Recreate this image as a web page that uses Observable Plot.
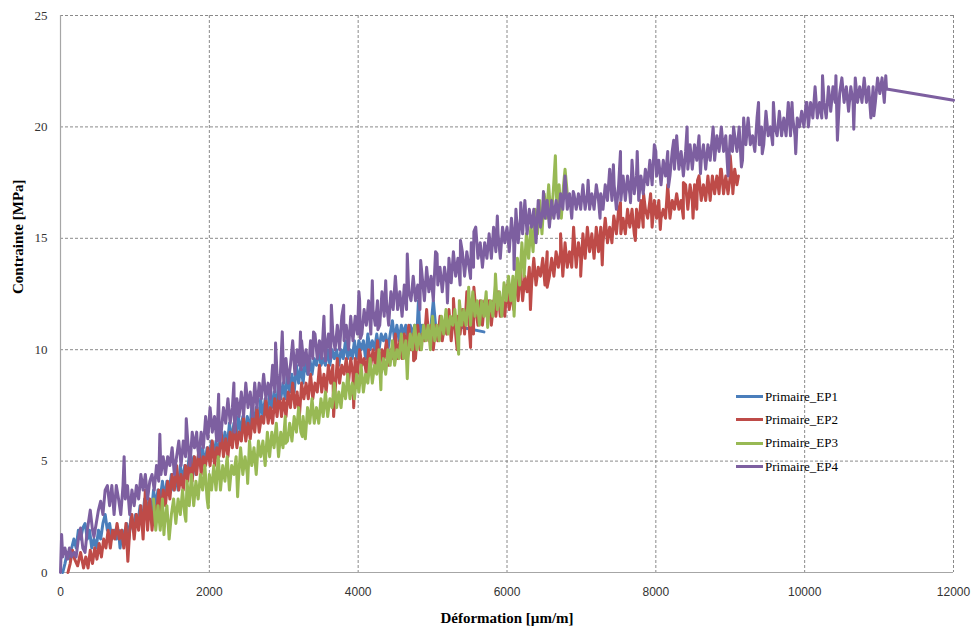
<!DOCTYPE html>
<html><head><meta charset="utf-8">
<script src="https://cdn.jsdelivr.net/npm/d3@7"></script>
<script src="https://cdn.jsdelivr.net/npm/@observablehq/plot@0.6"></script>
<style>
body{margin:0;background:#fff;}
#wrap{position:relative;width:971px;height:632px;}
#legend{position:absolute;left:736px;top:385px;font-family:"Liberation Serif",serif;font-size:13px;color:#000;}
.item{display:flex;align-items:center;height:23.3px;}
.sw{width:27px;height:3px;margin-right:2px;}
</style></head><body><div id="wrap"><div id="legend"></div></div>
<script>
const seriesNames = ["Primaire_EP1","Primaire_EP2","Primaire_EP3","Primaire_EP4"];
const seriesColors = ["#4a7ebb","#be4b48","#98b954","#7d5fa0"];
const xTicks = [0,2000,4000,6000,8000,10000,12000];
const yTicks = [0,5,10,15,20,25];

const ep1 = [[30,0],[60,0.4],[90,0.9],[120,0.6],[150,1.1],[180,1.5],[210,1.1],[240,1.9],[270,1.5],[300,2.0],[330,2.2],[360,1.5],[390,1.9],[420,1.1],[450,1.5],[480,1.1],[510,1.9],[540,1.5],[570,2.2],[600,2.6],[630,1.9],[660,2.2],[690,1.5],[720,1.9],[750,1.5],[780,1.9],[800,1.1],[830,1.9],[860,1.5],[890,2.2],[920,1.5],[950,2.6],[980,1.9],[1010,2.6],[1040,2.2],[1070,3.0],[1100,2.2],[1130,3.3],[1160,2.6],[1190,3.3],[1220,2.6],[1250,3.7],[1280,3.0],[1310,3.7],[1340,3.3],[1370,4.1],[1400,3.3],[1430,4.1],[1460,3.7],[1490,4.4],[1520,3.7],[1550,4.4],[1580,3.7],[1610,4.8],[1640,4.1],[1670,4.8],[1700,4.4],[1730,5.2],[1760,4.4],[1790,5.2],[1820,4.4],[1850,5.2],[1880,4.8],[1910,5.6],[1940,4.8],[1970,5.6],[2000,5.2],[2030,5.9],[2060,5.2],[2090,5.9],[2120,5.2],[2150,6.3],[2180,5.6],[2210,6.3],[2240,5.6],[2270,6.7],[2300,5.9],[2330,6.7],[2360,6.0],[2390,7.0],[2420,6.3],[2450,7.0],[2480,6.3],[2510,7.0],[2540,6.3],[2570,7.4],[2600,6.7],[2630,7.4],[2660,6.7],[2690,7.8],[2720,7.0],[2750,7.8],[2780,7.0],[2810,8.1],[2840,7.4],[2870,8.1],[2900,7.4],[2930,8.5],[2960,7.8],[2990,8.5],[3020,7.8],[3050,8.9],[3080,8.1],[3110,8.9],[3140,8.1],[3170,9.3],[3200,8.5],[3230,9.3],[3260,8.5],[3290,9.6],[3320,8.9],[3350,9.6],[3380,8.9],[3410,9.6],[3440,9.3],[3470,10.0],[3500,9.3],[3530,9.6],[3560,9.3],[3590,10.0],[3620,9.3],[3650,10.0],[3680,9.6],[3710,10.0],[3740,9.3],[3770,10.0],[3800,9.6],[3830,10.4],[3860,9.6],[3890,10.0],[3920,9.6],[3950,10.4],[3980,9.6],[4010,10.4],[4040,10.0],[4070,10.4],[4100,9.6],[4130,10.7],[4160,10.0],[4190,10.4],[4220,10.0],[4250,10.7],[4280,10.0],[4310,10.7],[4340,10.4],[4370,10.7],[4400,10.0],[4430,10.7],[4460,11.3],[4490,10.4],[4520,11.1],[4550,10.4],[4580,11.1],[4610,10.7],[4640,11.1],[4670,10.4],[4700,11.1],[4730,10.7],[4760,11.1],[4790,10.7],[4810,12.2],[4830,10.7],[4860,11.1],[4890,10.7],[4920,11.1],[4950,10.7],[4980,11.1],[5010,12.2],[5040,11.1],[5070,10.9],[5100,11.1],[5150,11.1],[5400,11.0],[5690,10.8]];

const ep2 = [[100,0],[130,0.4],[160,1.0],[190,0.6],[230,0.3],[270,0.9],[310,0.2],[340,0.7],[370,0.2],[400,1.0],[430,0.4],[460,1.1],[490,0.6],[520,1.3],[550,0.7],[580,1.5],[610,1.1],[640,1.9],[670,1.1],[700,1.9],[730,1.5],[760,2.2],[790,1.5],[820,1.9],[850,1.1],[880,2.2],[905,0.5],[930,1.9],[960,2.6],[990,1.5],[1020,2.6],[1050,1.9],[1080,3.0],[1110,1.5],[1140,3.7],[1170,1.9],[1200,3.3],[1230,1.9],[1260,3.0],[1290,2.6],[1320,3.7],[1350,2.6],[1380,3.7],[1410,3.0],[1440,4.1],[1470,3.3],[1500,4.4],[1530,3.7],[1560,4.8],[1590,3.7],[1620,4.4],[1650,3.7],[1680,4.8],[1710,4.1],[1740,5.2],[1770,4.1],[1800,5.2],[1830,4.4],[1860,5.6],[1890,4.4],[1920,5.2],[1950,4.8],[1980,5.6],[2010,4.8],[2040,5.9],[2070,4.8],[2100,5.6],[2130,5.2],[2160,6.3],[2190,5.2],[2220,6.0],[2250,5.2],[2280,6.3],[2310,5.6],[2340,6.7],[2370,5.6],[2400,6.3],[2430,5.9],[2460,7.0],[2490,5.9],[2520,6.7],[2550,6.0],[2580,7.0],[2610,6.3],[2640,7.4],[2670,6.3],[2700,7.0],[2730,6.7],[2760,7.8],[2790,6.7],[2820,7.4],[2850,6.7],[2880,7.8],[2910,7.0],[2940,8.1],[2970,7.0],[3000,7.8],[3030,7.0],[3060,8.1],[3090,7.4],[3120,8.5],[3150,7.4],[3180,8.1],[3210,7.0],[3240,8.5],[3270,7.8],[3300,8.5],[3330,7.8],[3360,8.9],[3390,7.8],[3420,8.5],[3450,8.1],[3480,9.3],[3510,8.1],[3540,8.9],[3570,8.1],[3600,9.3],[3630,8.5],[3660,9.3],[3690,8.1],[3720,9.6],[3750,8.5],[3780,9.3],[3810,8.9],[3840,9.6],[3870,8.5],[3900,9.6],[3930,8.9],[3960,9.6],[3990,8.9],[4020,10.0],[4050,9.3],[4080,9.6],[4110,8.9],[4140,10.0],[4170,9.3],[4200,10.0],[4230,9.3],[4260,10.4],[4290,9.3],[4320,10.0],[4350,9.6],[4380,10.4],[4410,9.3],[4440,10.0],[4470,9.6],[4500,10.7],[4530,9.6],[4560,10.4],[4590,9.6],[4620,10.7],[4650,10.0],[4680,11.1],[4710,10.0],[4740,10.7],[4770,9.6],[4800,11.1],[4830,10.0],[4860,10.7],[4890,10.4],[4920,11.8],[4950,10.4],[4980,11.1],[5010,10.0],[5040,11.1],[5070,10.4],[5100,11.5],[5130,10.4],[5160,11.1],[5190,10.7],[5220,11.8],[5250,10.4],[5280,11.5],[5310,10.7],[5340,11.5],[5370,10.7],[5400,11.8],[5430,10.7],[5460,12.6],[5490,11.1],[5520,11.8],[5550,10.7],[5580,11.8],[5610,11.1],[5640,12.2],[5670,11.1],[5700,12.2],[5730,11.5],[5760,12.2],[5790,11.1],[5820,12.2],[5850,11.5],[5880,12.6],[5910,11.5],[5940,12.2],[5970,11.5],[6000,12.9],[6030,11.8],[6060,12.6],[6090,11.8],[6120,12.9],[6150,12.2],[6180,13.7],[6210,12.2],[6240,13.3],[6270,12.6],[6300,13.7],[6330,12.9],[6360,14.1],[6390,12.9],[6420,13.7],[6450,13.3],[6480,14.1],[6510,12.9],[6540,14.4],[6570,13.3],[6600,14.1],[6630,13.3],[6660,14.4],[6690,13.7],[6720,14.4],[6750,13.3],[6780,14.8],[6810,13.7],[6840,14.4],[6870,13.7],[6900,15.2],[6930,13.7],[6960,14.8],[6990,14.1],[7020,15.2],[7050,14.1],[7080,15.5],[7110,14.4],[7140,15.2],[7170,14.1],[7200,15.5],[7230,14.4],[7260,15.5],[7290,14.8],[7320,15.9],[7350,14.8],[7380,15.5],[7410,14.8],[7440,15.9],[7470,15.2],[7500,16.3],[7530,15.2],[7560,15.9],[7590,15.2],[7620,16.3],[7650,15.5],[7680,16.3],[7710,15.2],[7740,16.3],[7770,15.5],[7800,16.7],[7830,15.5],[7860,16.3],[7890,15.9],[7920,16.7],[7950,15.5],[7980,16.7],[8010,15.9],[8040,16.7],[8070,15.9],[8100,16.3],[8130,15.9],[8160,17.4],[8190,15.9],[8220,16.7],[8250,16.3],[8280,17.0],[8310,16.3],[8340,16.7],[8370,15.9],[8400,17.4],[8430,16.3],[8460,17.4],[8490,16.7],[8520,17.4],[8550,16.3],[8580,17.8],[8610,16.7],[8640,17.4],[8670,16.7],[8700,17.8],[8730,16.7],[8760,17.8],[8790,17.0],[8820,17.8],[8850,17.0],[8880,18.1],[8910,17.0],[8940,17.8],[8970,17.0],[9000,17.8],[9030,17.4],[9060,18.1],[9090,17.4],[9110,17.8]];

const ep3 = [[1250,3.3],[1280,1.9],[1310,3.0],[1340,1.9],[1370,3.3],[1400,2.2],[1430,3.0],[1460,1.5],[1490,2.6],[1520,3.3],[1550,2.2],[1580,3.3],[1610,2.6],[1640,3.7],[1670,2.6],[1700,4.1],[1730,3.0],[1760,4.4],[1790,3.0],[1820,4.1],[1850,3.3],[1880,4.4],[1910,3.7],[1940,4.8],[1970,3.3],[1985,2.9],[2000,4.4],[2030,3.7],[2060,4.8],[2090,3.7],[2120,5.2],[2150,3.7],[2180,4.8],[2210,4.1],[2240,5.2],[2270,3.7],[2300,4.8],[2330,4.4],[2360,5.2],[2390,4.1],[2420,5.6],[2450,4.4],[2480,5.2],[2510,4.4],[2540,5.9],[2570,4.8],[2600,5.6],[2630,4.4],[2660,5.9],[2690,5.2],[2720,5.9],[2750,4.8],[2780,6.3],[2810,5.2],[2840,6.3],[2870,5.6],[2900,6.7],[2930,5.2],[2960,6.3],[2990,5.6],[3020,7.0],[3050,5.9],[3080,6.7],[3110,5.9],[3140,7.0],[3170,6.3],[3200,7.4],[3230,6.3],[3260,7.0],[3290,6.0],[3320,7.4],[3350,6.7],[3380,7.8],[3410,6.7],[3440,7.4],[3470,6.7],[3500,7.8],[3530,7.0],[3560,8.1],[3590,7.0],[3620,7.8],[3650,7.4],[3680,8.5],[3710,7.4],[3740,8.1],[3770,7.4],[3800,8.5],[3830,7.8],[3860,8.9],[3890,7.8],[3920,8.5],[3950,7.8],[3980,8.9],[4010,8.1],[4040,9.3],[4070,8.1],[4100,8.9],[4130,8.5],[4160,9.6],[4190,8.5],[4220,9.3],[4250,8.9],[4280,10.0],[4310,8.9],[4340,9.6],[4370,8.9],[4400,10.0],[4430,9.3],[4460,10.4],[4490,9.3],[4520,10.0],[4550,9.6],[4580,10.7],[4610,9.6],[4640,10.4],[4670,9.6],[4700,10.7],[4730,10.0],[4760,11.1],[4790,10.0],[4820,10.7],[4850,10.0],[4880,11.1],[4910,10.4],[4940,11.1],[4970,10.0],[5000,11.5],[5030,10.4],[5060,11.1],[5090,10.4],[5120,11.5],[5150,10.7],[5180,11.8],[5210,10.7],[5240,11.5],[5270,11.1],[5300,11.8],[5330,10.7],[5360,12.2],[5390,11.1],[5420,11.8],[5450,11.1],[5480,12.2],[5510,11.1],[5540,12.6],[5570,11.5],[5600,12.2],[5630,11.1],[5660,12.2],[5690,11.5],[5720,12.6],[5750,11.5],[5780,12.2],[5810,11.5],[5840,12.9],[5870,11.8],[5900,12.6],[5930,11.5],[5960,13.0],[5990,12.2],[6020,13.3],[6050,12.2],[6080,13.3],[6110,12.6],[6140,14.1],[6170,12.9],[6200,14.8],[6230,13.3],[6260,15.2],[6290,14.1],[6320,15.5],[6350,14.4],[6380,16.3],[6410,15.2],[6440,16.7],[6470,15.2],[6500,17.0],[6530,15.9],[6560,17.4],[6590,15.9],[6620,17.0],[6650,18.7],[6670,16.3],[6700,17.4],[6730,15.9],[6760,17.4],[6780,18.1],[6810,17.0]];

const ep4 = [[0,0],[15,1.7],[30,0.7],[60,1.1],[90,0.6],[120,1.1],[150,0.7],[180,0.9],[210,0.7],[240,1.5],[270,2.0],[300,1.1],[330,0.9],[360,1.9],[400,2.8],[430,1.9],[450,1.6],[480,2.2],[510,2.8],[540,3.2],[570,2.6],[600,3.7],[630,3.9],[660,3.0],[690,3.9],[720,2.6],[750,3.9],[780,3.3],[810,2.6],[840,3.9],[855,5.2],[870,3.3],[900,3.9],[930,2.6],[960,3.7],[990,3.0],[1020,3.9],[1050,3.3],[1080,4.4],[1110,3.7],[1140,4.4],[1170,3.3],[1200,4.1],[1230,4.4],[1260,3.7],[1290,4.8],[1320,4.1],[1335,6.2],[1350,4.4],[1380,5.2],[1410,4.4],[1440,5.2],[1470,4.8],[1500,5.6],[1530,4.4],[1560,5.2],[1590,5.9],[1620,4.8],[1650,5.9],[1680,5.2],[1710,5.9],[1740,4.8],[1770,6.3],[1800,5.6],[1830,6.3],[1860,5.2],[1890,6.3],[1920,5.6],[1950,7.0],[1980,6.0],[2010,7.4],[2040,6.3],[2070,7.0],[2100,5.9],[2130,7.0],[2160,6.3],[2190,7.4],[2220,6.7],[2250,7.8],[2280,6.7],[2310,7.4],[2340,6.3],[2370,7.8],[2400,7.0],[2430,8.1],[2460,7.0],[2490,8.5],[2520,7.4],[2550,8.1],[2580,7.0],[2610,8.5],[2640,7.4],[2670,8.5],[2700,7.8],[2730,8.9],[2760,7.8],[2790,8.5],[2820,7.8],[2850,9.3],[2880,8.1],[2910,8.9],[2940,7.8],[2960,9.3],[2980,10.8],[3000,8.5],[3030,9.6],[3060,8.5],[3090,9.3],[3120,10.4],[3150,8.9],[3180,10.0],[3210,9.3],[3240,10.4],[3270,9.3],[3300,10.0],[3330,8.9],[3360,10.4],[3390,9.6],[3420,10.7],[3450,9.6],[3480,10.4],[3510,9.6],[3540,11.5],[3570,10.0],[3600,10.7],[3630,9.6],[3660,10.7],[3690,10.0],[3720,11.1],[3750,10.0],[3780,11.5],[3810,10.4],[3840,11.1],[3870,10.0],[3900,11.5],[3930,10.4],[3960,11.5],[3990,10.7],[4020,12.2],[4050,10.7],[4080,11.8],[4110,11.1],[4140,12.2],[4170,10.7],[4200,11.8],[4230,11.1],[4260,12.2],[4290,11.1],[4320,12.6],[4350,11.5],[4380,12.2],[4410,11.1],[4440,12.6],[4470,11.8],[4500,13.3],[4530,11.8],[4560,12.6],[4590,11.5],[4620,12.9],[4650,11.8],[4680,12.6],[4710,12.2],[4740,13.3],[4770,12.2],[4800,12.9],[4830,11.8],[4860,13.3],[4890,12.2],[4920,13.7],[4950,12.6],[4980,13.3],[5010,12.2],[5040,14.4],[5070,12.9],[5100,13.7],[5130,12.6],[5160,13.7],[5190,13.0],[5220,14.1],[5250,13.0],[5280,14.4],[5310,13.3],[5340,14.1],[5370,12.9],[5400,14.4],[5430,13.3],[5460,14.4],[5490,13.7],[5520,14.8],[5550,13.7],[5580,15.5],[5610,14.1],[5640,14.8],[5670,13.7],[5700,14.8],[5730,14.1],[5760,15.2],[5790,14.1],[5820,15.5],[5850,14.4],[5880,15.2],[5910,14.1],[5940,15.5],[5970,14.8],[6000,15.5],[6030,14.4],[6060,15.9],[6090,14.8],[6120,16.3],[6150,14.8],[6180,15.9],[6210,15.2],[6240,16.7],[6270,15.2],[6300,16.3],[6330,15.5],[6360,16.3],[6390,14.8],[6420,16.7],[6450,15.5],[6480,16.3],[6510,15.9],[6540,16.7],[6570,15.5],[6600,16.7],[6630,15.9],[6660,16.7],[6690,15.9],[6720,17.0],[6750,16.3],[6780,17.8],[6810,16.3],[6840,17.0],[6870,15.9],[6900,17.0],[6930,16.3],[6960,17.0],[6990,16.3],[7020,17.4],[7050,16.3],[7080,17.0],[7110,16.3],[7140,17.0],[7170,16.3],[7200,17.4],[7230,16.7],[7260,17.0],[7290,16.3],[7320,17.4],[7350,16.7],[7380,18.1],[7410,16.7],[7440,17.4],[7470,16.3],[7500,17.4],[7530,16.7],[7560,17.8],[7590,16.7],[7620,17.8],[7650,17.0],[7680,18.5],[7710,17.0],[7740,17.8],[7770,16.7],[7800,17.8],[7830,17.0],[7860,18.1],[7890,17.4],[7920,18.5],[7950,17.4],[7980,19.2],[8010,17.8],[8040,18.5],[8070,17.4],[8100,18.5],[8130,17.8],[8160,18.9],[8190,17.8],[8220,18.9],[8250,18.1],[8280,19.6],[8310,18.1],[8340,18.9],[8370,17.8],[8400,18.9],[8430,18.1],[8460,19.2],[8490,18.1],[8520,19.2],[8550,18.5],[8580,19.6],[8610,18.5],[8640,19.2],[8670,18.1],[8700,19.2],[8730,18.5],[8760,19.6],[8790,18.5],[8820,19.6],[8850,18.9],[8880,20.0],[8910,18.9],[8940,19.6],[8970,17.8],[9000,19.6],[9030,18.9],[9060,19.6],[9090,18.9],[9120,20.0],[9150,18.2],[9180,20.4],[9210,19.2],[9240,20.4],[9270,19.2],[9300,19.6],[9330,18.9],[9360,20.4],[9390,19.2],[9420,20.0],[9450,19.2],[9480,20.7],[9510,19.6],[9540,20.0],[9570,19.2],[9600,20.0],[9630,19.6],[9660,20.7],[9690,19.6],[9720,20.4],[9750,19.6],[9780,21.1],[9810,19.6],[9840,20.4],[9870,19.6],[9900,20.4],[9930,20.0],[9960,20.7],[9990,20.0],[10020,21.1],[10050,20.0],[10080,21.1],[10110,20.4],[10140,21.8],[10170,20.4],[10200,21.1],[10230,20.4],[10260,21.1],[10290,20.4],[10320,21.8],[10350,20.7],[10380,21.8],[10410,21.1],[10440,19.4],[10470,21.5],[10500,22.2],[10530,21.1],[10560,21.8],[10590,20.7],[10620,21.8],[10650,21.1],[10680,22.2],[10710,21.1],[10740,21.8],[10770,21.1],[10800,22.2],[10830,21.1],[10860,21.8],[10890,20.4],[10920,21.8],[10950,21.1],[10980,22.2],[11010,21.5],[11040,22.2],[11070,21.1],[11100,21.7],[12000,21.2]];

const ep2Peaks = [[3670,7.0],[3940,7.4],[4745,9.5],[5280,12.3],[5330,10.0],[5510,10.1],[5555,12.8],[6140,13.9],[6315,11.8],[6540,12.8],[6720,15.2],[6895,15.5],[6990,13.3],[7280,13.8],[7435,16.0],[7525,16.6],[7725,14.9],[7835,17.0],[7930,17.0],[8060,15.4],[8370,17.5],[8500,15.9],[8560,17.6],[8870,18.1],[9000,18.7],[9035,17.0]];
const ep3Peaks = [[1390,1.7],[1685,2.3],[2380,3.4],[2515,4.0],[3025,5.8],[3250,6.1],[4305,8.2],[4660,8.7],[5350,9.8],[5485,12.8],[5740,11.0],[5845,13.4],[6095,11.5]];
const ep4Peaks = [[1690,6.9],[1840,5.7],[2125,8.0],[2140,5.9],[2330,8.5],[2890,10.3],[3225,10.8],[3235,9.1],[3400,10.8],[3560,9.5],[3640,12.0],[3805,12.0],[4010,12.6],[4030,10.5],[4190,13.1],[4265,10.9],[4370,13.1],[4660,14.3],[4840,14.0],[5060,14.3],[5200,12.1],[5375,14.9],[5510,13.2],[5555,15.3],[5870,16.0],[6095,13.6],[6185,16.6],[6490,17.1],[6890,17.1],[7090,17.6],[7250,15.9],[7430,18.3],[7525,18.9],[7660,16.6],[7750,18.9],[8000,18.9],[8170,17.3],[8240,19.4],[8420,20.0],[8600,17.9],[8770,20.0],[9045,20.0],[9165,18.5],[9380,21.1],[9430,18.8],[9580,21.1],[9830,21.1],[9880,18.8],[10030,21.1],[10240,22.3],[10420,22.3],[10660,19.9],[10930,20.5],[11090,22.3]];

const byX = (a, b) => a[0] - b[0];
const allSeries = [ep1, [...ep2, ...ep2Peaks].sort(byX), [...ep3, ...ep3Peaks].sort(byX), [...ep4, ...ep4Peaks].sort(byX)];
const data = allSeries.flatMap((arr, i) => arr.map(([x, y]) => ({x, y, s: seriesNames[i]})));

const gridStyle = {stroke: "#8a8a8a", strokeOpacity: 1, strokeDasharray: "3,2", strokeWidth: 1};

const chart = Plot.plot({
  width: 971, height: 632,
  marginLeft: 60, marginRight: 18, marginTop: 15, marginBottom: 60,
  style: {background: "white"},
  x: {domain: [0, 12000]},
  y: {domain: [0, 25]},
  color: {domain: seriesNames, range: seriesColors},
  marks: [
    Plot.gridX(xTicks.slice(1), gridStyle),
    Plot.gridY(yTicks.slice(1), gridStyle),
    Plot.ruleX([0], {stroke: "#a6a6a6", strokeWidth: 1.2}),
    Plot.ruleY([0], {stroke: "#a6a6a6", strokeWidth: 1.2}),
    Plot.axisX(xTicks, {tickSize: 0, tickPadding: 15, label: null, tickFormat: d3.format("d"), fontFamily: "Liberation Sans", fontSize: 12, fill: "#333"}),
    Plot.axisY(yTicks, {tickSize: 0, tickPadding: 13, label: null, tickFormat: d3.format("d"), fontFamily: "Liberation Serif", fontSize: 13, fill: "#333"}),
    Plot.line(data, {x: "x", y: "y", z: "s", stroke: "s", strokeWidth: 3, strokeLinejoin: "round"}),
    Plot.text(["Déformation [µm/m]"], {frameAnchor: "bottom", dy: 50, fontFamily: "Liberation Serif", fontWeight: "bold", fontSize: 15, fill: "#000"}),
    Plot.text(["Contrainte [MPa]"], {frameAnchor: "left", dx: -42, rotate: -90, fontFamily: "Liberation Serif", fontWeight: "bold", fontSize: 15, fill: "#000"})
  ]
});
const wrap = document.getElementById("wrap");
wrap.insertBefore(chart, wrap.firstChild);

const legend = document.getElementById("legend");
seriesNames.forEach((n, i) => {
  const item = document.createElement("div");
  item.className = "item";
  const sw = document.createElement("span");
  sw.className = "sw";
  sw.style.background = seriesColors[i];
  const t = document.createElement("span");
  t.textContent = n;
  item.appendChild(sw); item.appendChild(t);
  legend.appendChild(item);
});
</script></body></html>
